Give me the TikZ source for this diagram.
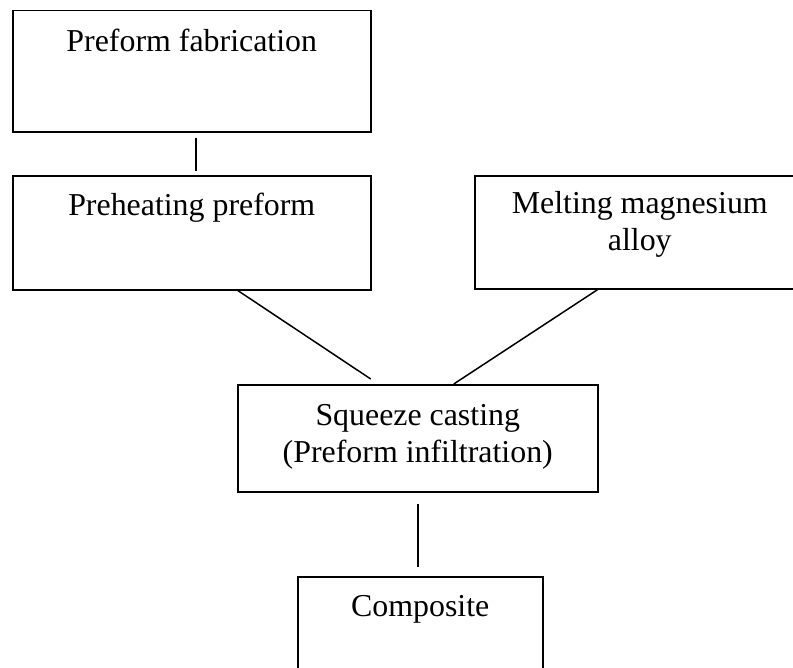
\documentclass[tikz,border=0pt]{standalone}
\usepackage{fontspec}
\setmainfont{Liberation Serif}

\begin{document}
\begin{tikzpicture}[x=1bp,y=-1bp,line width=1.5bp,
  stage/.style={draw,anchor=north west,inner xsep=0pt,inner ysep=0pt,align=center,
    font=\fontsize{32}{37}\selectfont}]
  \useasboundingbox (0,0) rectangle (793,668);
  \clip (0,0) rectangle (793,668);
  \node[stage,minimum width=358bp,text height=41bp,text depth=80bp] (fab) at (12,10) {Preform fabrication};
  \node[stage,minimum width=358bp,text height=40bp,text depth=74bp] (heat) at (12,175) {Preheating preform};
  \node[stage,minimum width=330bp,text height=75bp,text depth=38bp] (melt) at (474,175) {Melting magnesium\\alloy};
  \node[stage,minimum width=360bp,text height=78bp,text depth=29bp] (cast) at (237,384) {Squeeze casting\\(Preform infiltration)};
  \node[stage,minimum width=245bp,text height=40bp,text depth=75bp] (comp) at (297,576) {Composite};
  \draw ([xshift=4bp,yshift=-5bp]fab.south) -- ([xshift=4bp,yshift=4bp]heat.north);
  \draw ([xshift=46bp]heat.south) -- ([xshift=-47bp,yshift=5bp]cast.north);
  \draw ([xshift=-42bp]melt.south) -- ([xshift=36bp]cast.north);
  \draw ([yshift=-11bp]cast.south) -- ([yshift=9bp]cast.south |- comp.north);
\end{tikzpicture}
\end{document}
